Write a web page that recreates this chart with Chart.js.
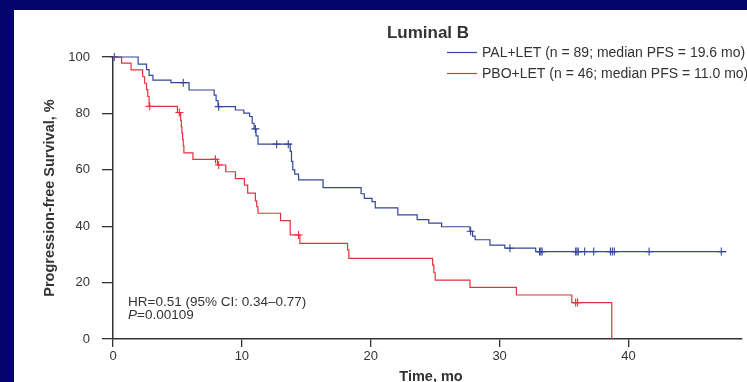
<!DOCTYPE html>
<html><head><meta charset="utf-8">
<script src="https://cdn.jsdelivr.net/npm/chart.js@4/dist/chart.umd.min.js"></script>
<style>
html,body{margin:0;padding:0;background:#03036b;width:747px;height:382px;overflow:hidden}
#wrap{position:absolute;left:14px;top:10px;width:733px;height:372px;background:#fff}
canvas{display:block}
</style></head><body>
<div id="wrap"><canvas id="c" width="733" height="372"></canvas></div>
<script>
// ---- data ----
const title = "Luminal B";
const palLabel = "PAL+LET (n = 89; median PFS = 19.6 mo)";
const pboLabel = "PBO+LET (n = 46; median PFS = 11.0 mo)";
const xTicks = [0, 10, 20, 30, 40];
const yTicks = [0, 20, 40, 60, 80, 100];
const xTitle = "Time, mo";
const yTitle = "Progression-free Survival, %";
const hrText = "HR=0.51 (95% CI: 0.34\u20130.77)";
const pText = "=0.00109";

const palTime = [0, 1.95, 2.6, 2.8, 3.1, 4.5, 5.9, 7.85, 8.0, 8.15, 9.5, 10.15, 10.6, 10.8, 10.95, 11.1, 11.25, 13.75, 13.85, 13.95, 14.1, 14.4, 16.3, 19.25, 19.5, 20.1, 20.35, 22.1, 23.6, 24.5, 25.5, 27.7, 27.9, 28.1, 29.25, 30.4, 32.8, 47.6];
const palSurv = [100, 97.5, 95.5, 93.5, 91.8, 90.9, 88.3, 86.5, 84.5, 82.4, 81.2, 80.1, 78.9, 76.5, 74.5, 72, 69.1, 66.5, 63, 60, 58.5, 56.4, 53.7, 51.5, 49.9, 48.7, 46.5, 44, 42.3, 41.1, 39.8, 38.2, 36.5, 35.2, 33.3, 32.2, 31, 31];
const palCensor = [0.1, 5.45, 8.2, 11.05, 12.7, 13.6, 27.75, 30.8, 33.1, 33.2, 33.3, 35.9, 36.0, 36.1, 36.6, 37.3, 38.6, 38.75, 38.9, 41.6, 47.2];

const pboTime = [0, 0.67, 1.4, 2.3, 2.45, 2.6, 2.7, 2.8, 5.0, 5.25, 5.3, 5.35, 5.4, 5.45, 5.5, 6.2, 8.1, 8.75, 9.5, 10.2, 10.45, 11.05, 11.15, 11.25, 13.0, 13.75, 14.5, 18.2, 18.3, 24.8, 24.9, 25.0, 27.7, 31.3, 35.6, 38.7];
const pboSurv = [100, 97.8, 95.4, 93, 90.7, 88.4, 86, 82.5, 80.3, 77.5, 75.2, 73, 70.8, 68.5, 66, 63.7, 61.7, 59.3, 56.9, 54.6, 51.7, 49, 46.9, 44.6, 42, 36.9, 33.9, 31.6, 28.6, 26.2, 23.5, 20.9, 18.3, 15.6, 12.9, 0];
const pboCensor = [2.85, 5.15, 7.95, 8.2, 14.4, 35.9, 36.05];

const BLUE = "#34459a", RED = "#e4323e", TXT = "#333333", FONT = "'Liberation Sans', Arial, sans-serif";

function curve(ts, ss){ return ts.map((t,i)=>({x:t, y:ss[i]})); }
function levelAt(ts, ss, t){ let v = ss[0]; for(let i=0;i<ts.length;i++){ if(ts[i] <= t) v = ss[i]; } return v; }
function censorPts(cs, ts, ss){ return cs.map(t=>({x:t, y:levelAt(ts, ss, t)})); }

const textPlugin = {
  id:'texts',
  afterDraw(chart){
    const ctx = chart.ctx;
    ctx.save();
    ctx.fillStyle = TXT;
    ctx.textBaseline = 'middle';
    // title
    ctx.font = "bold 17px " + FONT;
    ctx.textAlign = 'center';
    ctx.fillText(title, 414, 23);
    // legend
    ctx.font = "14px " + FONT;
    ctx.textAlign = 'left';
    [[palLabel, BLUE, 42],[pboLabel, RED, 63]].forEach(([lab,col,y])=>{
      ctx.strokeStyle = col; ctx.lineWidth = 1.2;
      ctx.beginPath(); ctx.moveTo(433, y+0.5); ctx.lineTo(463, y+0.5); ctx.stroke();
      ctx.fillStyle = TXT; ctx.fillText(lab, 468, y+1);
    });
    // annotation
    ctx.font = "13.5px " + FONT;
    ctx.fillText(hrText, 114, 292);
    ctx.font = "italic 13.5px " + FONT;
    ctx.fillText("P", 114, 305);
    const pw = ctx.measureText("P").width;
    ctx.font = "13.5px " + FONT;
    ctx.fillText(pText, 114 + pw, 305);
    // axis titles
    ctx.font = "bold 14.5px " + FONT;
    ctx.textAlign = 'center';
    ctx.fillText(xTitle, 417, 367);
    ctx.translate(36, 188);
    ctx.rotate(-Math.PI/2);
    ctx.fillText(yTitle, 0, 0);
    ctx.restore();
  }
};

new Chart(document.getElementById('c'), {
  type: 'line',
  data: {
    datasets: [
      {data: curve(palTime, palSurv), borderColor: BLUE, borderWidth: 1.2, stepped: 'before', pointRadius: 0, fill: false, clip: 6},
      {data: curve(pboTime, pboSurv), borderColor: RED, borderWidth: 1.2, stepped: 'before', pointRadius: 0, fill: false, clip: 6},
      {data: censorPts(palCensor, palTime, palSurv), showLine: false, pointStyle: 'cross', pointRadius: 4, pointBorderWidth: 1.1, borderColor: BLUE, pointBorderColor: BLUE, clip: 6},
      {data: censorPts(pboCensor, pboTime, pboSurv), showLine: false, pointStyle: 'cross', pointRadius: 4, pointBorderWidth: 1.1, borderColor: RED, pointBorderColor: RED, clip: 6}
    ]
  },
  options: {
    responsive: false,
    animation: false,
    events: [],
    layout: {padding: {top: 47, right: 0, bottom: 0, left: 0}},
    plugins: {legend: {display: false}, title: {display: false}, tooltip: {enabled: false}},
    scales: {
      x: {
        type: 'linear', min: 0, max: 48.8,
        afterFit(s){ s.height = 43; },
        afterBuildTicks(s){ s.ticks = xTicks.map(v=>({value:v})); },
        grid: {drawOnChartArea: false, drawTicks: true, tickLength: 8, color: TXT, lineWidth: 1.3},
        border: {display: true, color: TXT, width: 1.5},
        ticks: {padding: 2, color: TXT, font: {family: FONT, size: 13}, maxRotation: 0}
      },
      y: {
        type: 'linear', min: 0, max: 100,
        afterFit(s){ s.width = 99; },
        afterBuildTicks(s){ s.ticks = yTicks.map(v=>({value:v})); },
        grid: {drawOnChartArea: false, drawTicks: true, tickLength: 11, color: TXT, lineWidth: 1.3},
        border: {display: true, color: TXT, width: 1.5},
        ticks: {padding: 12, color: TXT, font: {family: FONT, size: 13}}
      }
    }
  },
  plugins: [textPlugin]
});
</script>
</body></html>
